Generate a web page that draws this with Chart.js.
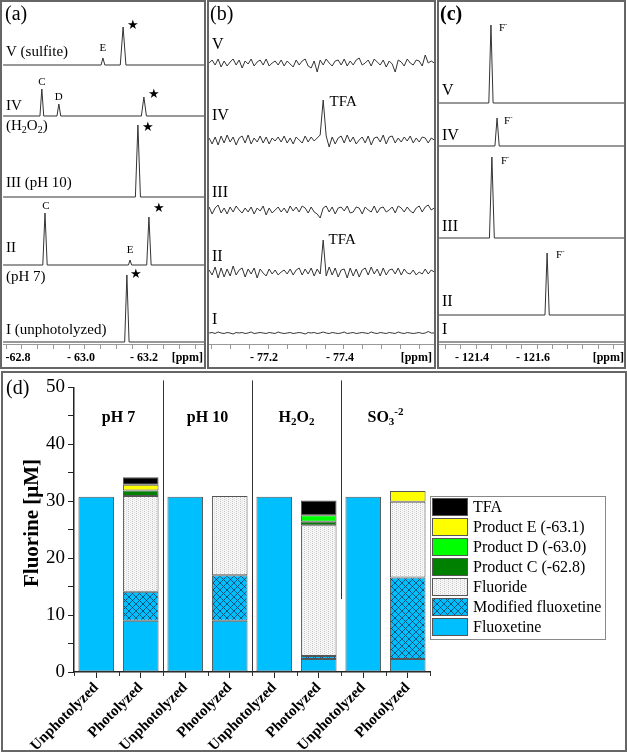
<!DOCTYPE html>
<html>
<head>
<meta charset="utf-8">
<script src="https://cdn.jsdelivr.net/npm/chart.js@4.4.1/dist/chart.umd.min.js"></script>
<style>
  body { margin: 0; background: #fff; width: 627px; height: 753px; position: relative; overflow: hidden; }
  canvas, .frame { position: absolute; }
  .frame { box-sizing: border-box; border: 2px solid #666; pointer-events: none; }
</style>
</head>
<body>
<canvas id="pa" width="202" height="363" style="left:3px;top:3px"></canvas>
<canvas id="pb" width="226" height="363" style="left:209px;top:3px"></canvas>
<canvas id="pc" width="185" height="363" style="left:439px;top:3px"></canvas>
<canvas id="pd" width="621" height="377" style="left:3px;top:373px"></canvas>
<div class="frame" style="left:0;top:0;width:206px;height:369px"></div>
<div class="frame" style="left:207px;top:0;width:229px;height:369px"></div>
<div class="frame" style="left:437px;top:0;width:189px;height:369px"></div>
<div class="frame" style="left:1px;top:371px;width:626px;height:381px"></div>
<script>
// ---- (a) 19F NMR near -63 ppm: [ppm, intensity] per trace (V..I)
const specA5 = [[-62.740, 0], [-63.051, 0], [-63.057, 7], [-63.063, 0], [-63.112, 0], [-63.121, 38], [-63.130, 0], [-63.381, 0]];
const specA4 = [[-62.740, 0], [-62.857, 0], [-62.863, 27], [-62.869, 0], [-62.911, 0], [-62.917, 12], [-62.923, 0], [-63.179, 0], [-63.187, 19], [-63.195, 0], [-63.381, 0]];
const specA3 = [[-62.740, 0], [-63.160, 0], [-63.168, 72], [-63.176, 0], [-63.381, 0]];
const specA2 = [[-62.740, 0], [-62.866, 0], [-62.873, 52], [-62.880, 0], [-63.138, 0], [-63.143, 5], [-63.148, 0], [-63.196, 0], [-63.203, 48], [-63.210, 0], [-63.381, 0]];
const specA1 = [[-62.740, 0], [-63.126, 0], [-63.133, 67], [-63.140, 0], [-63.381, 0]];
const aTickLabels = [-62.8, -63.0, -63.2];

// ---- (b) TFA region, sampled from -77.045 ppm in steps of 0.0079 ppm
const bStart = -77.045, bStep = -0.0079;
const specB5 = [0,3,-2,4,-4,2,-3,1,4,-2,3,-5,2,-1,4,-3,1,3,-2,4,-3,0,2,-2,3,-3,2,-1,-4,3,-2,2,4,-3,-5,2,-9,3,-2,4,0,-3,2,3,-2,4,-3,2,-2,3,5,-2,0,3,-3,4,1,-2,3,-4,2,-1,-9,3,1,-3,4,0,-2,3,2,-3,8,0,2,0];
const specB4 = [2,-4,3,-5,4,-3,5,-2,3,-5,2,4,-3,5,-4,2,-2,4,-3,3,-4,2,-1,3,-2,4,-3,2,-4,3,0,-3,4,-2,3,-1,2,5,40,4,-7,3,-4,2,4,-3,5,-2,3,-4,0,3,-3,4,-5,2,3,-2,5,-4,3,4,-3,2,-2,3,-1,4,-3,2,-2,3,2,-3,2,0];
const specB3 = [3,-4,2,5,-3,2,-4,3,-2,4,0,-3,2,-2,3,-4,2,-1,4,-5,2,-3,0,3,-2,2,-3,4,-1,3,-2,4,2,-3,3,-2,-4,-8,2,4,-2,3,-4,2,3,-1,4,-3,-2,3,2,-4,3,0,-2,4,-3,2,3,-2,0,3,-3,4,2,-2,3,-1,-3,2,4,-2,3,5,0,2];
const specB2 = [2,-3,5,-6,4,-5,3,-4,6,-3,2,4,-5,3,-2,4,-6,3,-1,-4,3,-2,2,-3,0,2,-2,3,-3,2,4,-3,3,-2,4,-4,3,-2,32,-4,5,-3,4,-5,2,3,-6,4,-4,3,-5,2,4,-3,5,-2,3,-4,4,-3,2,3,-2,4,-3,3,-1,-2,2,-3,0,-2,3,-2,2,0];
const specB1 = [0,0.5,-0.5,1,0,-0.5,0.5,0,-1,0.5,0,0.5,-0.5,0,1,-0.5,0,0.5,0,-0.5,0.5,0,-0.5,1,0,-0.5,0,0.5,-0.5,0,0.5,0,-1,0.5,0,0.5,-0.5,0,1,0,-0.5,0.5,0,-0.5,0,1,-0.5,0,0.5,-0.5,0,0.5,0,-0.5,1,0,-0.5,0.5,0,-0.5,0.5,0,-0.5,1,0,-0.5,0.5,0,-0.5,0,0.5,-0.5,0,1.5,0,0];
const bTickLabels = [-77.2, -77.4];

// ---- (c) fluoride region
const specC5 = [[-121.279, 0], [-121.442, 0], [-121.449, 78], [-121.456, 0], [-121.885, 0]];
const specC4 = [[-121.279, 0], [-121.462, 0], [-121.469, 28], [-121.476, 0], [-121.885, 0]];
const specC3 = [[-121.279, 0], [-121.444, 0], [-121.452, 81], [-121.460, 0], [-121.885, 0]];
const specC2 = [[-121.279, 0], [-121.626, 0], [-121.633, 62], [-121.640, 0], [-121.885, 0]];
const specC1 = [[-121.279, 0], [-121.885, 0]];
const cTickLabels = [-121.4, -121.6];

// ---- (d) fluorine mass balance [µM]
const categories = ['Unphotolyzed', 'Photolyzed', 'Unphotolyzed', 'Photolyzed', 'Unphotolyzed', 'Photolyzed', 'Unphotolyzed', 'Photolyzed'];
const fluoxetine = [30.8, 9.0, 30.8, 9.0, 30.8, 2.3, 30.8, 2.3];
const modifiedFluoxetine = [0, 5.1, 0, 8.0, 0, 0.5, 0, 14.3];
const fluoride = [0, 16.8, 0, 13.9, 0, 23.0, 0, 13.3];
const productC = [0, 1.0, 0, 0, 0, 0.6, 0, 0];
const productD = [0, 0, 0, 0, 0, 1.15, 0, 0];
const productE = [0, 1.0, 0, 0, 0, 0, 0, 1.9];
const tfa = [0, 1.3, 0, 0, 0, 2.6, 0, 0];
const seriesNames = ['Fluoxetine', 'Modified fluoxetine', 'Fluoride', 'Product C (-62.8)', 'Product D (-63.0)', 'Product E (-63.1)', 'TFA'];
const yTicks = [0, 10, 20, 30, 40, 50];

const SERIF = '"Liberation Serif", "Times New Roman", serif';

function drawRich(ctx, parts, x, y, o) {
  const size = o.size || 15, fam = o.family || SERIF, wt = o.bold ? 'bold ' : '';
  if (typeof parts === 'string') parts = [[parts]];
  const fontFor = m => wt + (m ? Math.round(size * 0.68) : size) + 'px ' + fam;
  let w = 0;
  parts.forEach(([t, m]) => { ctx.font = fontFor(m); w += ctx.measureText(t).width; });
  let cx = o.align === 'center' ? x - w / 2 : o.align === 'right' ? x - w : x;
  ctx.save();
  ctx.fillStyle = '#000';
  ctx.textBaseline = 'middle';
  ctx.textAlign = 'left';
  parts.forEach(([t, m]) => {
    ctx.font = fontFor(m);
    const dy = m === 'sub' ? size * 0.3 : m === 'sup' ? -size * 0.35 : 0;
    ctx.fillText(t, cx, y + dy);
    cx += ctx.measureText(t).width;
  });
  ctx.restore();
}

// pixel position of the data point nearest to ppm in a dataset
function apex(chart, ds, ppm) {
  const data = chart.data.datasets[ds].data;
  let best = data[0];
  data.forEach(p => { if (Math.abs(p.x - ppm) < Math.abs(best.x - ppm)) best = p; });
  return { x: chart.scales.x.getPixelForValue(best.x), y: chart.scales.y.getPixelForValue(best.y) };
}

const textPlugin = (texts, marks) => ({
  id: 'panelText',
  afterDraw(chart) {
    const ctx = chart.ctx, ox = chart.canvas.offsetLeft, oy = chart.canvas.offsetTop;
    texts.forEach(t => drawRich(ctx, t.parts, t.x - ox, t.y - oy, t));
    marks.forEach(m => {
      const p = apex(chart, m.ds, m.ppm);
      drawRich(ctx, m.parts, p.x + m.dx, p.y + m.dy, m);
    });
  }
});

// label only the listed ppm values; the first one of panel (a) is printed without the gap
function ppmLabel(list, tight) {
  return v => {
    const hit = list.find(t => Math.abs(t - v) < 1e-6);
    if (hit === undefined) return '';
    const s = Math.abs(hit).toFixed(1);
    return tight && hit === list[0] ? '-' + s : '- ' + s;
  };
}

function spectrumChart(id, traces, offsets, xmin, xmax, fmt, texts, marks) {
  return new Chart(document.getElementById(id), {
    type: 'line',
    data: {
      datasets: traces.map((pts, i) => ({
        data: pts.map(p => ({ x: p[0], y: p[1] + offsets[i] })),
        borderColor: '#333', borderWidth: 1, pointRadius: 0, tension: 0
      }))
    },
    options: {
      responsive: false, animation: false,
      layout: { padding: 0 },
      plugins: { legend: { display: false }, tooltip: { enabled: false } },
      scales: {
        x: {
          type: 'linear', reverse: true, min: xmin, max: xmax,
          ticks: { stepSize: 0.05, includeBounds: false, autoSkip: false, maxRotation: 0, callback: fmt,
                   font: { family: SERIF, size: 12, weight: 'bold' }, color: '#000', padding: 2, labelOffset: -4 },
          grid: { drawOnChartArea: false, tickLength: 5, color: '#999' },
          border: { color: '#999' },
          afterFit: s => { s.height = 22; }
        },
        y: { display: false, min: 0, max: 341 }
      }
    },
    plugins: [textPlugin(texts, marks)]
  });
}

const bTrace = vals => vals.map((v, i) => [bStart + i * bStep, v]);
const STAR = { family: '"DejaVu Sans", sans-serif', size: 13 };

spectrumChart('pa', [specA5, specA4, specA3, specA2, specA1], [279, 228, 147, 79, 2], -63.381, -62.7397, ppmLabel(aTickLabels, true), [
  { parts: '(a)', x: 5, y: 15, size: 20 },
  { parts: 'V (sulfite)', x: 6, y: 52 },
  { parts: 'IV', x: 6, y: 106 },
  { parts: [['(H'], ['2', 'sub'], ['O'], ['2', 'sub'], [')']], x: 6, y: 126 },
  { parts: 'III (pH 10)', x: 6, y: 183 },
  { parts: 'II', x: 6, y: 248 },
  { parts: '(pH 7)', x: 6, y: 277 },
  { parts: 'I (unphotolyzed)', x: 6, y: 330 },
  { parts: '[ppm]', x: 203, y: 358, size: 12, bold: true, align: 'right' }
], [
  { ds: 0, ppm: -63.057, parts: 'E', dx: 0, dy: -10, size: 11, align: 'center' },
  { ds: 0, ppm: -63.121, parts: '★', dx: 4, dy: -1, ...STAR },
  { ds: 1, ppm: -62.863, parts: 'C', dx: 0, dy: -7, size: 11, align: 'center' },
  { ds: 1, ppm: -62.917, parts: 'D', dx: 0, dy: -7, size: 11, align: 'center' },
  { ds: 1, ppm: -63.187, parts: '★', dx: 4, dy: -2, ...STAR },
  { ds: 2, ppm: -63.168, parts: '★', dx: 4, dy: 3, ...STAR },
  { ds: 3, ppm: -62.873, parts: 'C', dx: 1, dy: -7, size: 11, align: 'center' },
  { ds: 3, ppm: -63.143, parts: 'E', dx: 0, dy: -10, size: 11, align: 'center' },
  { ds: 3, ppm: -63.203, parts: '★', dx: 4, dy: -8, ...STAR },
  { ds: 4, ppm: -63.133, parts: '★', dx: 3, dy: 0, ...STAR }
]);

spectrumChart('pb', [specB5, specB4, specB3, specB2, specB1].map(bTrace), [281, 204, 134, 72, 11], -77.6395, -77.0447, ppmLabel(bTickLabels), [
  { parts: '(b)', x: 210, y: 15, size: 20 },
  { parts: 'V', x: 212, y: 45, size: 16 },
  { parts: 'IV', x: 212, y: 116, size: 16 },
  { parts: 'III', x: 212, y: 193, size: 16 },
  { parts: 'II', x: 212, y: 257, size: 16 },
  { parts: 'I', x: 212, y: 320, size: 16 },
  { parts: '[ppm]', x: 432, y: 358, size: 12, bold: true, align: 'right' }
], [
  { ds: 1, ppm: bStart + 38 * bStep, parts: 'TFA', dx: 20, dy: 2, size: 15, align: 'center' },
  { ds: 3, ppm: bStart + 38 * bStep, parts: 'TFA', dx: 19, dy: 0, size: 15, align: 'center' }
]);

const FM = [['F'], ['-', 'sup']];
spectrumChart('pc', [specC5, specC4, specC3, specC2, specC1], [241, 198, 106, 29, 2], -121.885, -121.2787, ppmLabel(cTickLabels), [
  { parts: '(c)', x: 440, y: 15, size: 20, bold: true },
  { parts: 'V', x: 442, y: 91, size: 16 },
  { parts: 'IV', x: 442, y: 136, size: 16 },
  { parts: 'III', x: 442, y: 227, size: 16 },
  { parts: 'II', x: 442, y: 302, size: 16 },
  { parts: 'I', x: 442, y: 330, size: 16 },
  { parts: '[ppm]', x: 624, y: 358, size: 12, bold: true, align: 'right' }
], [
  { ds: 0, ppm: -121.449, parts: FM, dx: 8, dy: 3, size: 11 },
  { ds: 1, ppm: -121.469, parts: FM, dx: 7, dy: 3, size: 11 },
  { ds: 2, ppm: -121.452, parts: FM, dx: 9, dy: 4, size: 11 },
  { ds: 3, ppm: -121.633, parts: FM, dx: 9, dy: 2, size: 11 }
]);

// ---- (d) bar chart
function makePattern(size, draw) {
  const c = document.createElement('canvas');
  c.width = c.height = size;
  const g = c.getContext('2d');
  draw(g);
  return g.createPattern(c, 'repeat');
}
const hatch = makePattern(7, g => {
  g.fillStyle = '#00BFFF'; g.fillRect(0, 0, 7, 7);
  g.strokeStyle = '#123a5c'; g.lineWidth = 0.8;
  g.beginPath(); g.moveTo(0, 0); g.lineTo(7, 7); g.moveTo(7, 0); g.lineTo(0, 7); g.stroke();
});
const dots = makePattern(4, g => {
  g.fillStyle = '#f6f6f6'; g.fillRect(0, 0, 4, 4);
  g.fillStyle = '#c6c6c6'; g.fillRect(1, 0, 1, 1); g.fillRect(1, 2, 1, 1);
  g.fillStyle = '#dddddd'; g.fillRect(3, 1, 1, 1); g.fillRect(3, 3, 1, 1);
});
const fills = ['#00BFFF', hatch, dots, '#008000', '#00FF00', '#FFFF00', '#000000'];
const seriesValues = [fluoxetine, modifiedFluoxetine, fluoride, productC, productD, productE, tfa];
const groupLabels = [[['pH 7']], [['pH 10']], [['H'], ['2', 'sub'], ['O'], ['2', 'sub']], [['SO'], ['3', 'sub'], ['-2', 'sup']]];

const barDecor = {
  id: 'barDecor',
  afterDraw(chart) {
    const { ctx, chartArea: a, scales: { x, y } } = chart;
    ctx.save();
    ctx.strokeStyle = '#333'; ctx.lineWidth = 1;
    for (let g = 1; g < groupLabels.length; g++) {
      const bx = Math.round(x.getPixelForValue(2 * g - 0.5)) + 0.5;
      const yEnd = g === 3 ? y.getPixelForValue(12.8) : a.bottom;
      ctx.beginPath(); ctx.moveTo(bx, a.top - 7); ctx.lineTo(bx, yEnd); ctx.stroke();
    }
    for (let i = 0; i <= categories.length; i++) {
      const bx = Math.round(x.getPixelForValue(i - 0.5)) + 0.5;
      ctx.beginPath(); ctx.moveTo(bx, a.bottom); ctx.lineTo(bx, a.bottom + 4); ctx.stroke();
    }
    groupLabels.forEach((parts, g) => {
      const cx = (x.getPixelForValue(2 * g) + x.getPixelForValue(2 * g + 1)) / 2;
      drawRich(ctx, parts, cx, a.top + 30, { size: 16, bold: true, align: 'center' });
    });
    // legend, top entry = top of stack
    const lx = 427, ly = 123, rowH = 20;
    ctx.fillStyle = '#fff'; ctx.fillRect(lx, ly, 175, 143);
    ctx.strokeStyle = '#888'; ctx.strokeRect(lx + 0.5, ly + 0.5, 175, 143);
    chart.data.datasets.slice().reverse().forEach((ds, i) => {
      const sy = ly + 2 + i * rowH;
      ctx.fillStyle = ds.backgroundColor; ctx.fillRect(lx + 2, sy, 36, 18);
      ctx.strokeStyle = '#555'; ctx.strokeRect(lx + 2.5, sy + 0.5, 35, 17);
      drawRich(ctx, ds.label, lx + 43, sy + 10, { size: 16 });
    });
    drawRich(ctx, '(d)', 3, 16, { size: 20 });
    ctx.translate(30, 150); ctx.rotate(-Math.PI / 2);
    drawRich(ctx, 'Fluorine [μM]', 0, 0, { size: 21, bold: true, align: 'center' });
    ctx.restore();
  }
};

new Chart(document.getElementById('pd'), {
  type: 'bar',
  data: {
    labels: categories,
    datasets: seriesValues.map((vals, i) => ({
      label: seriesNames[i],
      data: vals.map(v => v === 0 ? null : v),
      backgroundColor: fills[i],
      borderColor: '#555', borderWidth: 1, borderSkipped: false
    }))
  },
  options: {
    responsive: false, animation: false,
    layout: { padding: { top: 11, right: 194, left: 0, bottom: 0 } },
    plugins: { legend: { display: false }, tooltip: { enabled: false } },
    datasets: { bar: { barPercentage: 0.8, categoryPercentage: 1 } },
    scales: {
      x: {
        stacked: true,
        grid: { drawOnChartArea: false, offset: false, tickLength: 6, color: '#222' },
        border: { color: '#222', width: 1.5 },
        ticks: { font: { family: SERIF, size: 15, weight: 'bold' }, color: '#000', minRotation: 45, maxRotation: 45, padding: 1, autoSkip: false },
        afterFit: s => { s.height = 78; }
      },
      y: {
        stacked: true, min: 0, max: 50,
        ticks: { stepSize: 5, callback: v => yTicks.includes(v) ? v : '', font: { family: SERIF, size: 19 }, color: '#000', padding: 3 },
        grid: { drawOnChartArea: false, tickLength: 6, color: '#222' },
        border: { color: '#222', width: 1.5 },
        afterFit: s => { s.width = 71; }
      }
    }
  },
  plugins: [barDecor]
});
</script>
</body>
</html>
